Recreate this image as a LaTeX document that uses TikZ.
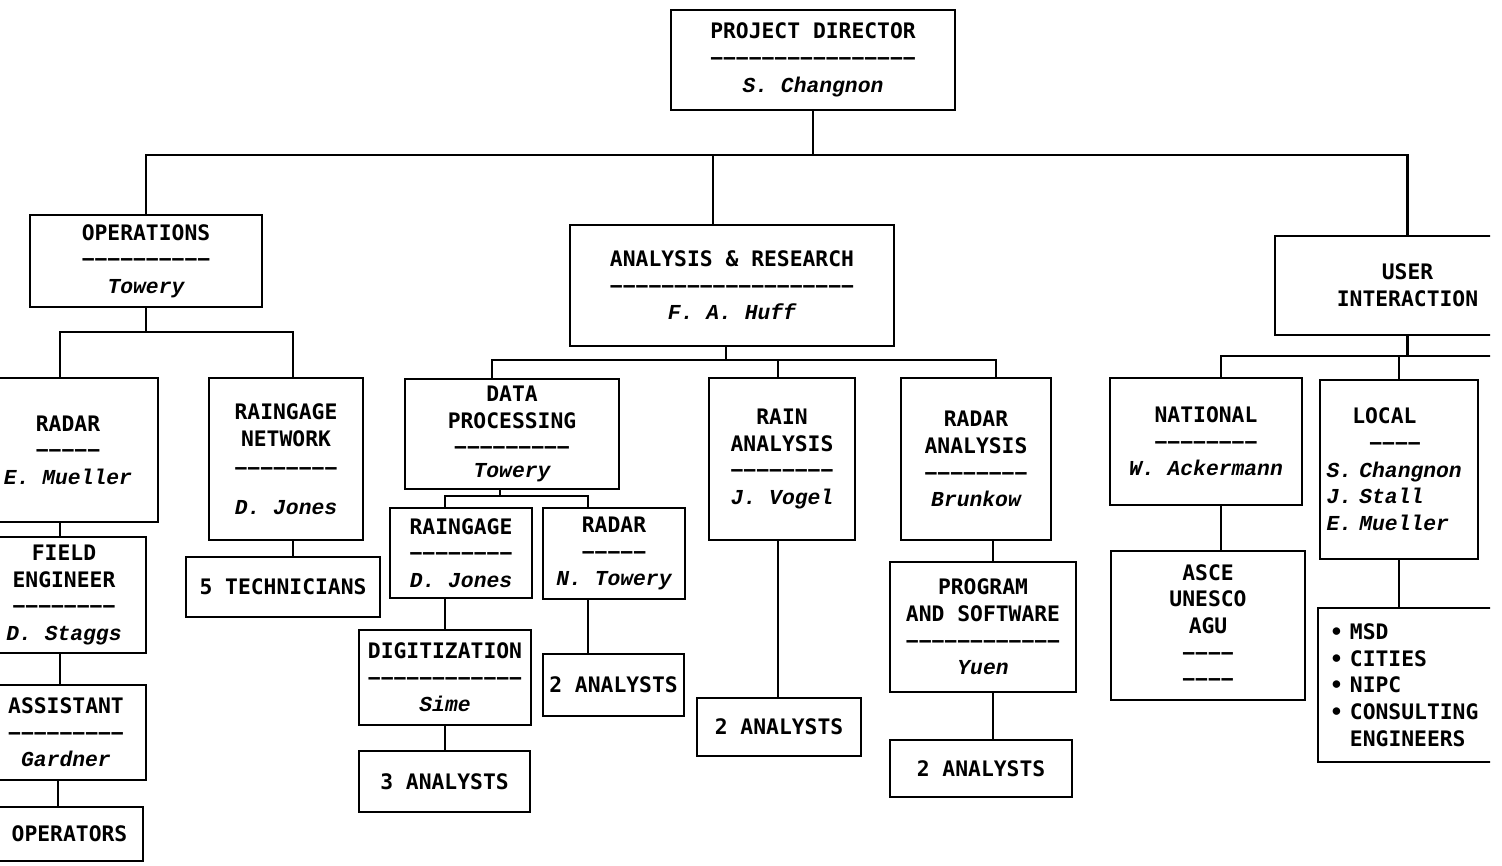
\documentclass[tikz,border=0pt]{standalone}
\usepackage{fontspec}
\newfontfamily\twfont{DejaVu Sans Mono}
\newfontfamily\nmfont{Liberation Mono}[UprightFont=* Bold Italic, BoldFont=* Bold Italic, ItalicFont=* Bold Italic, BoldItalicFont=* Bold Italic]
\newcommand\nm[1]{{\nmfont #1}}
\tikzset{
  bx/.style={draw, line width=2.2pt, inner sep=0pt, align=center,
    font=\twfont\bfseries\fontsize{16}{20}\selectfont},
  ln/.style={line width=2.2pt}
}
\newcommand\ob[6][]{\node[bx,minimum width={(#4-#2)*0.75pt},minimum height={(#5-#3)*0.75pt},#1] (#6) at ({(#2+#4)/2},{(#3+#5)/2})}
\begin{document}
\begin{tikzpicture}[x=0.75pt,y=-0.75pt]
\useasboundingbox (0,0) rectangle (1502,865);
\clip (0,0) rectangle (1490,865);
% boxes
\ob{671}{10}{955}{110}{pd} {PROJECT DIRECTOR\\−−−−−−−−−−−−−−−−\\\nm{S. Changnon}};
\ob{30}{215}{262}{307}{ops} {OPERATIONS\\−−−−−−−−−−\\\nm{Towery}};
\ob{-22}{378}{158}{522}{radL} {RADAR\\−−−−−\\\nm{E. Mueller}};
\ob{-18}{537}{146}{653}{fe} {FIELD\\ENGINEER\\−−−−−−−−\\\nm{D. Staggs}};
\ob{-14}{685}{146}{780}{asst} {ASSISTANT\\−−−−−−−−−\\\nm{Gardner}};
\ob{-4}{807}{143}{861}{oper} {OPERATORS};
\ob{209}{378}{363}{540}{rgn} {RAINGAGE\\NETWORK\\[2pt]−−−−−−−−\\[9pt]\nm{D. Jones}};
\ob{186}{557}{380}{617}{tech} {5 TECHNICIANS};
\ob{570}{225}{894}{346}{an} {ANALYSIS \& RESEARCH\\−−−−−−−−−−−−−−−−−−−\\\nm{F. A. Huff}};
\ob{405}{379}{619}{489}{dp} {DATA\\PROCESSING\\−−−−−−−−−\\[-3pt]\nm{Towery}};
\ob{390}{508}{532}{598}{rgdp} {RAINGAGE\\−−−−−−−−\\\nm{D. Jones}};
\ob{543}{508}{685}{599}{raddp} {RADAR\\−−−−−\\\nm{N. Towery}};
\ob{359}{630}{531}{725}{dig} {DIGITIZATION\\−−−−−−−−−−−−\\\nm{Sime}};
\ob{359}{751}{530}{812}{anA} {3 ANALYSTS};
\ob{543}{654}{684}{716}{anB} {2 ANALYSTS};
\ob{709}{378}{855}{540}{rain} {RAIN\\ANALYSIS\\−−−−−−−−\\\nm{J. Vogel}};
\ob{697}{698}{861}{756}{anC} {2 ANALYSTS};
\ob{901}{378}{1051}{540}{radan} {RADAR\\ANALYSIS\\−−−−−−−−\\\nm{Brunkow}};
\ob{890}{562}{1076}{692}{prog} {PROGRAM\\AND SOFTWARE\\−−−−−−−−−−−−\\\nm{Yuen}};
\ob{890}{740}{1072}{797}{anD} {2 ANALYSTS};
\ob{1275}{236}{1540}{335}{ui} {USER\\INTERACTION};
\ob{1110}{378}{1302}{505}{nat} {NATIONAL\\−−−−−−−−\\\nm{W. Ackermann}};
\ob{1111}{551}{1305}{700}{asce} {ASCE\\UNESCO\\AGU\\−−−−\\−−−−};
\ob[align=left,inner xsep=5pt,text width={(158*0.75-10)*1pt}]{1320}{380}{1478}{559}{local}
  {\hspace*{1.2em}LOCAL\\\hspace*{2em}−−−−\\\nm{S. Changnon}\\\nm{J. Stall}\\\nm{E. Mueller}};
\ob[align=left,inner xsep=9pt,text width={(222*0.75-18)*1pt}]{1318}{608}{1540}{762}{msd}
  {• MSD\\• CITIES\\• NIPC\\• CONSULTING\\\phantom{• }ENGINEERS};
% top level connectors
\coordinate (jt) at (813,155);
\coordinate (ja) at (713,155);
\draw[ln] (pd.south) -- (jt);
\draw[ln] (ops.north) |- (jt) -| (ui.north);
\draw[ln] (ja) -- (ja |- an.north);
% operations
\coordinate (o1) at (60,332);
\coordinate (o2) at (293,332);
\coordinate (v1) at (60,0);
\coordinate (v2) at (58,0);
\draw[ln] (ops.south) -- (ops.south |- o1);
\draw[ln] (o1 |- radL.north) -- (o1) -- (o2) -- (o2 |- rgn.north);
\draw[ln] (v1 |- radL.south) -- (v1 |- fe.north);
\draw[ln] (v1 |- fe.south) -- (v1 |- asst.north);
\draw[ln] (v2 |- asst.south) -- (v2 |- oper.north);
\draw[ln] (o2 |- rgn.south) -- (o2 |- tech.north);
% analysis
\coordinate (c0) at (726,360);
\coordinate (c1) at (492,360);
\coordinate (c2) at (778,360);
\coordinate (c3) at (996,360);
\coordinate (r1) at (993,0);
\draw[ln] (c0 |- an.south) -- (c0);
\draw[ln] (c1 |- dp.north) -- (c1) -- (c3) -- (c3 |- radan.north);
\draw[ln] (c2) -- (c2 |- rain.north);
\draw[ln] (c2 |- rain.south) -- (c2 |- anC.north);
\draw[ln] (r1 |- radan.south) -- (r1 |- prog.north);
\draw[ln] (r1 |- prog.south) -- (r1 |- anD.north);
% data processing
\coordinate (d0) at (500,496);
\coordinate (d1) at (445,496);
\coordinate (d2) at (588,496);
\draw[ln] (d0 |- dp.south) -- (d0);
\draw[ln] (d1 |- rgdp.north) -- (d1) -- (d2) -- (d2 |- raddp.north);
\draw[ln] (d1 |- rgdp.south) -- (d1 |- dig.north);
\draw[ln] (d1 |- dig.south) -- (d1 |- anA.north);
\draw[ln] (d2 |- raddp.south) -- (d2 |- anB.north);
% user interaction
\coordinate (u1) at (1221,356);
\coordinate (u2) at (1500,356);
\draw[ln] (ui.south) -- (ui.south |- u1);
\draw[ln] (u1 |- nat.north) -- (u1) -- (u2);
\draw[ln] (local.north |- u1) -- (local.north);
\draw[ln] (u1 |- nat.south) -- (u1 |- asce.north);
\draw[ln] (local.south) -- (local.south |- msd.north);
\end{tikzpicture}
\end{document}
